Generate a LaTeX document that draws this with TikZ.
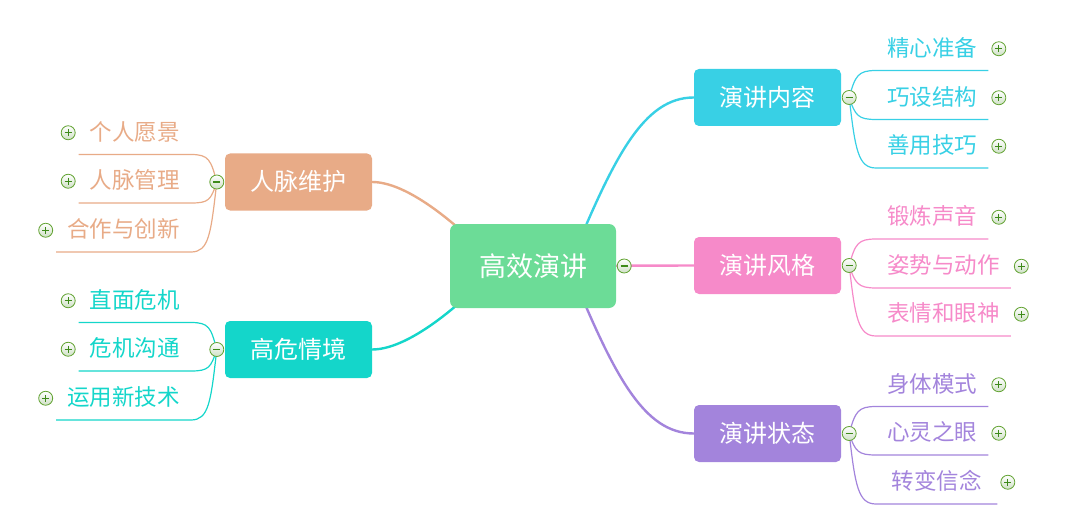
\documentclass[tikz,border=0pt]{standalone}
\usepackage{fontspec}
\newfontfamily\cjk{Noto Sans CJK SC}
\usepackage{tikz}
\usetikzlibrary{positioning, calc, backgrounds}
\definecolor{Hub}{HTML}{6CDC97}
\definecolor{Cyan}{HTML}{38D0E5}
\definecolor{Pink}{HTML}{F68AC9}
\definecolor{Violet}{HTML}{A384DC}
\definecolor{Tan}{HTML}{E8AB87}
\definecolor{Teal}{HTML}{14D6CA}
\definecolor{Ring}{HTML}{62A332}
\definecolor{Sign}{HTML}{3E8A1A}
\definecolor{Knob}{HTML}{CFE0C6}

\begin{document}
\begin{tikzpicture}[
  x=1pt, y=-1pt,
  font=\cjk,
  hub/.style={rounded corners=7pt, fill=Hub, text=white, minimum width=166pt, minimum height=84pt, font=\cjk\fontsize{27}{30}\selectfont, text height=21.5pt, text depth=1.5pt},
  topic/.style={rounded corners=5pt, text=white, minimum width=147pt, minimum height=57pt, font=\cjk\fontsize{24}{28}\selectfont, text height=19pt, text depth=1.2pt},
  leaf/.style={font=\cjk\fontsize{22.5}{26}\selectfont, text height=18pt, text depth=1.1pt, inner xsep=11pt, inner ysep=13pt},
  knob/.style={circle, draw=Ring, line width=0.8pt, top color=white, bottom color=Knob, minimum size=14pt, inner sep=0pt},
  minus/.style={knob, path picture={\draw[Sign, line width=1.3pt] ($(path picture bounding box.center)+(-3.5,0)$) -- +(7,0);}},
  plus/.style={knob, path picture={\draw[Sign, line width=1.3pt] ($(path picture bounding box.center)+(-3.5,0)$) -- +(7,0) ($(path picture bounding box.center)+(0,-3.5)$) -- +(0,7);}},
  branch/.style={line width=2.4pt},
  twig/.style={line width=1.2pt}
]
\useasboundingbox (0,0) rectangle (1066,532);

\node[hub] (hub) at (533,266) {高效演讲};
\node[topic, fill=Cyan] (content) at (767.5,97.5) {演讲内容};
\node[topic, fill=Pink] (manner) at (767.5,265.5) {演讲风格};
\node[topic, fill=Violet] (state) at (767.5,433.5) {演讲状态};
\node[topic, fill=Tan] (network) at (298.5,182) {人脉维护};
\node[topic, fill=Teal] (crisis) at (298.5,349.5) {高危情境};

\node[leaf, text=Cyan, anchor=south west] (prepare) at (876,70.5) {精心准备};
\node[leaf, text=Cyan, anchor=south west] (structure) at (876,119.5) {巧设结构};
\node[leaf, text=Cyan, anchor=south west] (skills) at (876,168) {善用技巧};
\node[leaf, text=Pink, anchor=south west] (voice) at (876,239) {锻炼声音};
\node[leaf, text=Pink, anchor=south west] (gesture) at (876,288) {姿势与动作};
\node[leaf, text=Pink, anchor=south west] (face) at (876,336) {表情和眼神};
\node[leaf, text=Violet, anchor=south west] (body) at (876,406.5) {身体模式};
\node[leaf, text=Violet, anchor=south west] (mind) at (876,455) {心灵之眼};
\node[leaf, text=Violet, anchor=south west, minimum width=121pt] (belief) at (876,504) {转变信念};

\node[leaf, text=Tan, anchor=south east] (vision) at (191,154.5) {个人愿景};
\node[leaf, text=Tan, anchor=south east] (contacts) at (191,203) {人脉管理};
\node[leaf, text=Tan, anchor=south east] (partner) at (191,252) {合作与创新};
\node[leaf, text=Teal, anchor=south east] (confront) at (191,322.5) {直面危机};
\node[leaf, text=Teal, anchor=south east] (talk) at (191,371) {危机沟通};
\node[leaf, text=Teal, anchor=south east] (newtech) at (191,420) {运用新技术};

\begin{scope}[on background layer]
\draw[branch, Cyan] ($(hub)+(36,0)$) .. controls +(45,-110) and +(-50,0) .. (content.west);
\draw[branch, Pink] (hub) -- (manner.west);
\draw[branch, Violet] ($(hub)+(36,0)$) .. controls +(45,110) and +(-50,0) .. (state.west);
\draw[branch, Tan] ($(hub)+(-36,0)$) .. controls +(-27,-30) and +(40,0) .. (network.east);
\draw[branch, Teal] ($(hub)+(-36,0)$) .. controls +(-27,30) and +(40,0) .. (crisis.east);

\draw[twig, Cyan] ($(content.east)+(8,0)$) .. controls +(6,-22) and +(-18,0) .. (prepare.south west) -- (prepare.south east);
\draw[twig, Cyan] ($(content.east)+(8,0)$) .. controls +(6,18) and +(-18,0) .. (structure.south west) -- (structure.south east);
\draw[twig, Cyan] ($(content.east)+(8,0)$) .. controls +(6,52) and +(-18,0) .. (skills.south west) -- (skills.south east);
\draw[twig, Pink] ($(manner.east)+(8,0)$) .. controls +(6,-22) and +(-18,0) .. (voice.south west) -- (voice.south east);
\draw[twig, Pink] ($(manner.east)+(8,0)$) .. controls +(6,18) and +(-18,0) .. (gesture.south west) -- (gesture.south east);
\draw[twig, Pink] ($(manner.east)+(8,0)$) .. controls +(6,52) and +(-18,0) .. (face.south west) -- (face.south east);
\draw[twig, Violet] ($(state.east)+(8,0)$) .. controls +(6,-22) and +(-18,0) .. (body.south west) -- (body.south east);
\draw[twig, Violet] ($(state.east)+(8,0)$) .. controls +(6,18) and +(-18,0) .. (mind.south west) -- (mind.south east);
\draw[twig, Violet] ($(state.east)+(8,0)$) .. controls +(6,52) and +(-18,0) .. (belief.south west) -- (belief.south east);
\draw[twig, Tan] ($(network.west)+(-8,0)$) .. controls +(-6,-22) and +(18,0) .. (vision.south east) -- (vision.south west);
\draw[twig, Tan] ($(network.west)+(-8,0)$) .. controls +(-6,18) and +(18,0) .. (contacts.south east) -- (contacts.south west);
\draw[twig, Tan] ($(network.west)+(-8,0)$) .. controls +(-6,52) and +(18,0) .. (partner.south east) -- (partner.south west);
\draw[twig, Teal] ($(crisis.west)+(-8,0)$) .. controls +(-6,-22) and +(18,0) .. (confront.south east) -- (confront.south west);
\draw[twig, Teal] ($(crisis.west)+(-8,0)$) .. controls +(-6,18) and +(18,0) .. (talk.south east) -- (talk.south west);
\draw[twig, Teal] ($(crisis.west)+(-8,0)$) .. controls +(-6,52) and +(18,0) .. (newtech.south east) -- (newtech.south west);
\end{scope}

\node[minus] (hub-m) at ($(hub.east)+(8,0)$) {};
\node[minus] (content-m) at ($(content.east)+(8,0)$) {};
\node[minus] (manner-m) at ($(manner.east)+(8,0)$) {};
\node[minus] (state-m) at ($(state.east)+(8,0)$) {};
\node[minus] (network-m) at ($(network.west)+(-8,0)$) {};
\node[minus] (crisis-m) at ($(crisis.west)+(-8,0)$) {};

\node[plus, right=3pt of prepare, yshift=-1pt] (prepare-p) {};
\node[plus, right=3pt of structure, yshift=-1pt] (structure-p) {};
\node[plus, right=3pt of skills, yshift=-1pt] (skills-p) {};
\node[plus, right=3pt of voice, yshift=-1pt] (voice-p) {};
\node[plus, right=3pt of gesture, yshift=-1pt] (gesture-p) {};
\node[plus, right=3pt of face, yshift=-1pt] (face-p) {};
\node[plus, right=3pt of body, yshift=-1pt] (body-p) {};
\node[plus, right=3pt of mind, yshift=-1pt] (mind-p) {};
\node[plus, right=3pt of belief, yshift=-1pt] (belief-p) {};
\node[plus, left=3pt of vision, yshift=-1pt] (vision-p) {};
\node[plus, left=3pt of contacts, yshift=-1pt] (contacts-p) {};
\node[plus, left=3pt of partner, yshift=-1pt] (partner-p) {};
\node[plus, left=3pt of confront, yshift=-1pt] (confront-p) {};
\node[plus, left=3pt of talk, yshift=-1pt] (talk-p) {};
\node[plus, left=3pt of newtech, yshift=-1pt] (newtech-p) {};
\end{tikzpicture}
\end{document}
